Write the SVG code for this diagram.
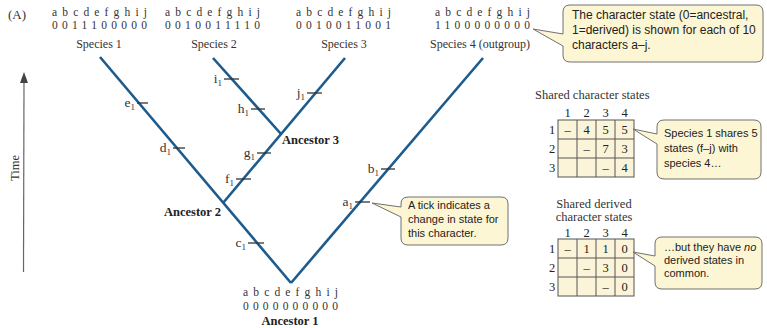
<svg xmlns="http://www.w3.org/2000/svg" width="767" height="328" viewBox="0 0 767 328">
<defs>
<style>
.serif{font-family:"Liberation Serif","Times New Roman",serif;fill:#333}
.chars{font-size:11.5px}
.sp{font-size:12px;text-anchor:middle}
.anc{font-size:12.5px;font-weight:bold;fill:#222}
.tl{font-size:13.5px;text-anchor:end}
.sub{font-size:9px}
.branch{stroke:#1c5b8d;stroke-width:2.6;fill:none;stroke-linecap:butt}
.tick{stroke:#333;stroke-width:1.3}
.call{fill:#fdf6d4;stroke:#707070;stroke-width:1}
.sans{font-family:"Liberation Sans",Arial,sans-serif;fill:#222}
.cell{fill:#fbf4d9;stroke:#555;stroke-width:1}
.tgrid{stroke:#555;stroke-width:1}
.tt{font-family:"Liberation Serif","Times New Roman",serif;font-size:12.5px;fill:#222;text-anchor:middle}
.ttitle{font-family:"Liberation Serif","Times New Roman",serif;font-size:12.5px;fill:#333}
</style>
</defs>
<rect width="767" height="328" fill="#ffffff"/>

<text x="8" y="19" class="serif" font-size="13">(A)</text>

<g id="time-axis">
<line x1="23.5" y1="272" x2="24" y2="82" stroke="#666" stroke-width="1.2"/>
<path d="M20,83 L24,72 L28,83 Z" fill="#444"/>
<text x="0" y="0" class="serif" font-size="12.5" fill="#555" text-anchor="middle" transform="translate(19,168) rotate(-90)">Time</text>
</g>

<g id="connectors">
<line class="branch" x1="100" y1="57" x2="291" y2="283"/>
<line class="branch" x1="483" y1="58" x2="291" y2="283"/>
<line class="branch" x1="345" y1="58" x2="223" y2="203"/>
<line class="branch" x1="213" y1="58" x2="281" y2="134"/>
<g id="ticks">
<line class="tick" x1="137" y1="103" x2="148" y2="103"/>
<line class="tick" x1="173" y1="148" x2="185" y2="148"/>
<line class="tick" x1="248" y1="243" x2="264" y2="243"/>
<line class="tick" x1="224" y1="79" x2="239" y2="79"/>
<line class="tick" x1="251" y1="109" x2="265" y2="109"/>
<line class="tick" x1="257" y1="153" x2="271" y2="153"/>
<line class="tick" x1="236" y1="179" x2="251" y2="179"/>
<line class="tick" x1="307" y1="93" x2="322" y2="93"/>
<line class="tick" x1="381" y1="169" x2="395" y2="169"/>
<line class="tick" x1="355" y1="202" x2="370" y2="202"/>
</g>
<g id="tick-labels" class="serif">
<text class="tl" x="135" y="107">e<tspan class="sub" dy="3">1</tspan></text>
<text class="tl" x="171" y="152">d<tspan class="sub" dy="3">1</tspan></text>
<text class="tl" x="246" y="247">c<tspan class="sub" dy="3">1</tspan></text>
<text class="tl" x="222" y="83">i<tspan class="sub" dy="3">1</tspan></text>
<text class="tl" x="249" y="113">h<tspan class="sub" dy="3">1</tspan></text>
<text class="tl" x="255" y="157">g<tspan class="sub" dy="3">1</tspan></text>
<text class="tl" x="234" y="183">f<tspan class="sub" dy="3">1</tspan></text>
<text class="tl" x="305" y="97">j<tspan class="sub" dy="3">1</tspan></text>
<text class="tl" x="379" y="173">b<tspan class="sub" dy="3">1</tspan></text>
<text class="tl" x="353" y="206">a<tspan class="sub" dy="3">1</tspan></text>
</g>
</g>

<g id="species1" class="serif">
<text class="chars" x="99.5" y="16" text-anchor="middle" textLength="95" lengthAdjust="spacing">a b c d e f g h i j</text>
<text class="chars" x="99.5" y="29" text-anchor="middle" textLength="95" lengthAdjust="spacing">0011100000</text>
<text class="sp" x="99" y="48">Species 1</text>
</g>
<g id="species2" class="serif">
<text class="chars" x="212.5" y="16" text-anchor="middle" textLength="95" lengthAdjust="spacing">a b c d e f g h i j</text>
<text class="chars" x="212.5" y="29" text-anchor="middle" textLength="95" lengthAdjust="spacing">0010011110</text>
<text class="sp" x="214" y="48">Species 2</text>
</g>
<g id="species3" class="serif">
<text class="chars" x="343.5" y="16" text-anchor="middle" textLength="95" lengthAdjust="spacing">a b c d e f g h i j</text>
<text class="chars" x="343.5" y="29" text-anchor="middle" textLength="95" lengthAdjust="spacing">0010011001</text>
<text class="sp" x="344" y="48">Species 3</text>
</g>
<g id="species4" class="serif">
<text class="chars" x="482.5" y="16" text-anchor="middle" textLength="95" lengthAdjust="spacing">a b c d e f g h i j</text>
<text class="chars" x="482.5" y="29" text-anchor="middle" textLength="95" lengthAdjust="spacing">1100000000</text>
<text class="sp" x="480" y="48">Species 4 (outgroup)</text>
</g>
<g id="ancestor1" class="serif">
<text class="chars" x="290.5" y="296" text-anchor="middle" textLength="95" lengthAdjust="spacing">a b c d e f g h i j</text>
<text class="chars" x="290.5" y="310" text-anchor="middle" textLength="95" lengthAdjust="spacing">0000000000</text>
<text class="serif anc" x="290" y="325" text-anchor="middle">Ancestor 1</text>
</g>
<g id="ancestor2">
<text class="serif anc" x="221" y="216" text-anchor="end">Ancestor 2</text>
</g>
<g id="ancestor3">
<text class="serif anc" x="282" y="144">Ancestor 3</text>
</g>

<g id="callout-states">
<path class="call" d="M570,5 H756 Q763,5 763,12 V55 Q763,62 756,62 H570 Q563,62 563,55 V46 L533,29 L563,34 V12 Q563,5 570,5 Z"/>
<text class="sans" font-size="12" x="572" y="19">The character state (0=ancestral,</text>
<text class="sans" font-size="12" x="572" y="34">1=derived) is shown for each of 10</text>
<text class="sans" font-size="12" x="572" y="49">characters a–j.</text>
</g>

<g id="callout-tick">
<path class="call" d="M408,197 H501 Q508,197 508,204 V238 Q508,245 501,245 H408 Q401,245 401,238 V217 L372,203 L401,207 V204 Q401,197 408,197 Z"/>
<text class="sans" font-size="11" x="408" y="209">A tick indicates a</text>
<text class="sans" font-size="11" x="408" y="223">change in state for</text>
<text class="sans" font-size="11" x="408" y="237">this character.</text>
</g>

<g id="table-shared">
<text class="ttitle" x="535" y="99">Shared character states</text>
<text class="tt" x="567.5" y="117">1</text>
<text class="tt" x="586.5" y="117">2</text>
<text class="tt" x="605.5" y="117">3</text>
<text class="tt" x="624.5" y="117">4</text>
<text class="tt" x="552" y="134">1</text>
<text class="tt" x="552" y="153">2</text>
<text class="tt" x="552" y="172">3</text>
<rect class="cell" x="558" y="120" width="76" height="57"/>
<path class="tgrid" d="M577,120 V177 M596,120 V177 M615,120 V177 M558,139 H634 M558,158 H634"/>
<text class="tt" x="567.5" y="134">–</text>
<text class="tt" x="586.5" y="134">4</text>
<text class="tt" x="605.5" y="134">5</text>
<text class="tt" x="624.5" y="134">5</text>
<text class="tt" x="586.5" y="153">–</text>
<text class="tt" x="605.5" y="153">7</text>
<text class="tt" x="624.5" y="153">3</text>
<text class="tt" x="605.5" y="172">–</text>
<text class="tt" x="624.5" y="172">4</text>
</g>

<g id="callout-species1">
<path class="call" d="M664,120 H754 Q761,120 761,127 V172 Q761,179 754,179 H664 Q657,179 657,172 V144 L633,129 L657,134 V127 Q657,120 664,120 Z"/>
<text class="sans" font-size="11" x="664" y="137">Species 1 shares 5</text>
<text class="sans" font-size="11" x="664" y="152">states (f–j) with</text>
<text class="sans" font-size="11" x="664" y="167">species 4…</text>
</g>

<g id="table-derived">
<text class="ttitle" x="594" y="208" text-anchor="middle">Shared derived</text>
<text class="ttitle" x="594" y="221" text-anchor="middle">character states</text>
<text class="tt" x="567.5" y="237">1</text>
<text class="tt" x="586.5" y="237">2</text>
<text class="tt" x="605.5" y="237">3</text>
<text class="tt" x="624.5" y="237">4</text>
<text class="tt" x="552" y="253">1</text>
<text class="tt" x="552" y="272">2</text>
<text class="tt" x="552" y="291">3</text>
<rect class="cell" x="558" y="239" width="76" height="57"/>
<path class="tgrid" d="M577,239 V296 M596,239 V296 M615,239 V296 M558,258 H634 M558,277 H634"/>
<text class="tt" x="567.5" y="253">–</text>
<text class="tt" x="586.5" y="253">1</text>
<text class="tt" x="605.5" y="253">1</text>
<text class="tt" x="624.5" y="253">0</text>
<text class="tt" x="586.5" y="272">–</text>
<text class="tt" x="605.5" y="272">3</text>
<text class="tt" x="624.5" y="272">0</text>
<text class="tt" x="605.5" y="291">–</text>
<text class="tt" x="624.5" y="291">0</text>
</g>

<g id="callout-derived">
<path class="call" d="M662,237 H755 Q762,237 762,244 V282 Q762,289 755,289 H662 Q655,289 655,282 V266 L633,252 L655,256 V244 Q655,237 662,237 Z"/>
<text class="sans" font-size="11" x="664" y="251">…but they have <tspan font-style="italic">no</tspan></text>
<text class="sans" font-size="11" x="664" y="264">derived states in</text>
<text class="sans" font-size="11" x="664" y="277">common.</text>
</g>
</svg>
